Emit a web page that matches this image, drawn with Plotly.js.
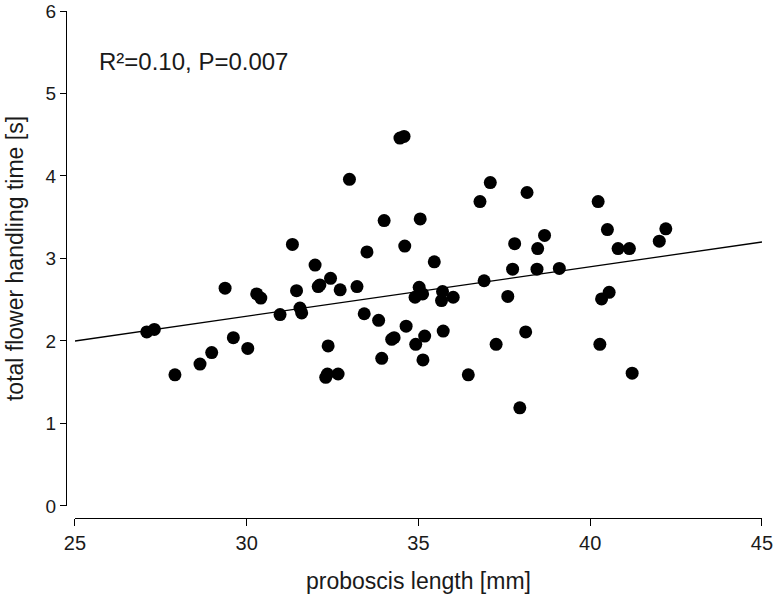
<!DOCTYPE html>
<html>
<head>
<meta charset="utf-8">
<script src="https://cdn.plot.ly/plotly-3.0.1.min.js"></script>
<style>html,body{margin:0;padding:0;background:#fff}#chart{width:773px;height:594px}</style>
</head>
<body>
<div id="chart"></div>
<script>
// proboscis length [mm]
var proboscisLength = [
  27.09, 27.31, 27.91, 28.64, 28.98, 29.37, 29.61, 30.03, 30.29, 30.41,
  30.97, 31.33, 31.45, 31.55, 31.60, 31.99, 32.08, 32.13, 32.44, 32.37,
  32.30, 32.35, 32.66, 32.72, 32.99, 33.21, 33.42, 33.50, 33.84, 33.93,
  34.00, 34.22, 34.29, 34.46, 34.58, 34.60, 34.64, 34.90, 34.92, 35.02,
  35.05, 35.12, 35.13, 35.18, 35.46, 35.70, 35.67, 35.72, 36.01, 36.45,
  36.79, 36.91, 37.09, 37.26, 37.60, 37.74, 37.80, 37.95, 38.12, 38.16,
  38.45, 38.47, 38.67, 39.10, 40.23, 40.28, 40.33, 40.50, 40.55, 40.81,
  41.14, 41.22, 42.01, 42.20
];
// total flower handling time [s]
var handlingTime = [
  2.11, 2.14, 1.59, 1.72, 1.86, 2.64, 2.04, 1.91, 2.57, 2.52,
  2.32, 3.17, 2.61, 2.40, 2.34, 2.92, 2.66, 2.68, 2.76, 1.94,
  1.56, 1.60, 1.60, 2.62, 3.96, 2.66, 2.33, 3.08, 2.25, 1.79,
  3.46, 2.02, 2.04, 4.46, 4.48, 3.15, 2.18, 2.53, 1.96, 2.65,
  3.48, 2.57, 1.77, 2.06, 2.96, 2.60, 2.49, 2.12, 2.53, 1.59,
  3.69, 2.73, 3.92, 1.96, 2.54, 2.87, 3.18, 1.19, 2.11, 3.80,
  2.87, 3.12, 3.28, 2.88, 3.69, 1.96, 2.51, 3.35, 2.59, 3.12,
  3.12, 1.61, 3.21, 3.36
];
// regression line end points
var fitX = [25, 45];
var fitY = [2.0, 3.2];
var statsText = "R²=0.10, P=0.007";
var xTicks = [25, 30, 35, 40, 45];
var yTicks = [0, 1, 2, 3, 4, 5, 6];

var font = "Liberation Sans, Arial, Helvetica, sans-serif";

var traces = [
  {x: fitX, y: fitY, type: "scatter", mode: "lines",
   line: {color: "#000", width: 1.3}, hoverinfo: "skip"},
  {x: proboscisLength, y: handlingTime, type: "scatter", mode: "markers",
   marker: {color: "#000", size: 13, line: {width: 0}}}
];

var layout = {
  width: 773, height: 594,
  margin: {l: 66, r: 11, t: 11, b: 76},
  paper_bgcolor: "#fff", plot_bgcolor: "#fff",
  showlegend: false,
  font: {family: font, color: "#1a1a1a", size: 19},
  xaxis: {
    domain: [0.0129, 1], range: [25, 45], anchor: "free", position: 0,
    tickvals: xTicks, ticks: "outside", ticklen: 7, tickwidth: 1, tickcolor: "#000",
    showline: true, linecolor: "#000", linewidth: 1, showgrid: false, zeroline: false,
    ticklabeloverflow: "allow",
    tickfont: {size: 20, family: font},
    title: {text: "proboscis length [mm]", font: {size: 23, family: font}, standoff: 20}
  },
  yaxis: {
    domain: [0.0237, 1], range: [0, 6], anchor: "free", position: 0,
    tickvals: yTicks, ticks: "outside", ticklen: 6, tickwidth: 1, tickcolor: "#000",
    showline: true, linecolor: "#000", linewidth: 1, showgrid: false, zeroline: false,
    ticklabeloverflow: "allow",
    tickfont: {size: 19, family: font},
    title: {text: "total flower handling time [s]", font: {size: 23, family: font}, standoff: 14}
  },
  annotations: [{
    x: 25.64, y: 5.39, xref: "x", yref: "y", xanchor: "left", yanchor: "middle",
    text: statsText, showarrow: false, font: {size: 24, family: font, color: "#1a1a1a"}
  }]
};

Plotly.newPlot("chart", traces, layout, {displayModeBar: false, staticPlot: true});
</script>
</body>
</html>
